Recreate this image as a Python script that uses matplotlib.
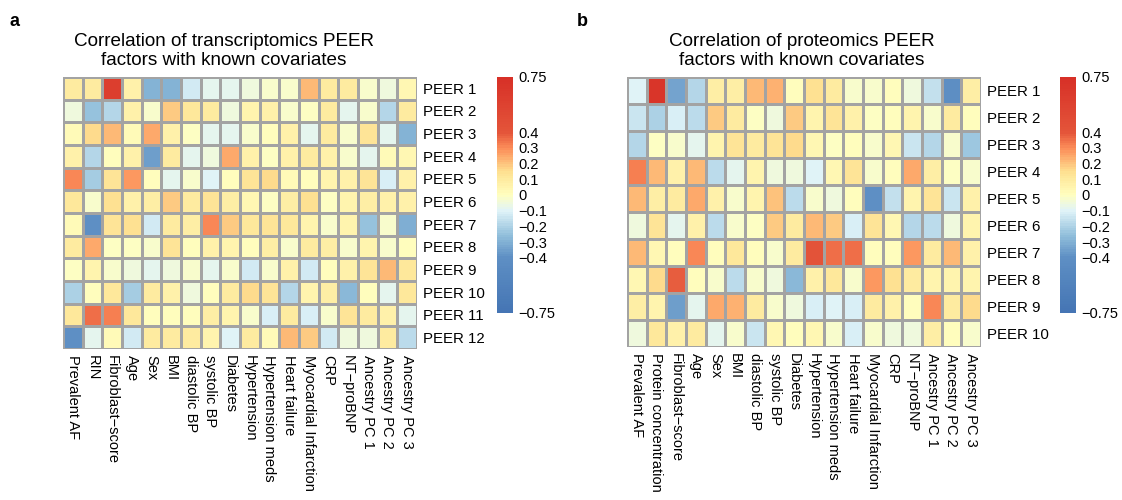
import numpy as np
import matplotlib
matplotlib.use("Agg")
import matplotlib.pyplot as plt
from matplotlib.colors import LinearSegmentedColormap, Normalize
from matplotlib.cm import ScalarMappable

plt.rcParams['font.family'] = ['Liberation Sans', 'DejaVu Sans']

# covariates (columns)
tx_covariates = ['Prevalent AF', 'RIN', 'Fibroblast\u2212score', 'Age', 'Sex', 'BMI',
                 'diastolic BP', 'systolic BP', 'Diabetes', 'Hypertension',
                 'Hypertension meds', 'Heart failure', 'Myocardial Infarction', 'CRP',
                 'NT\u2212proBNP', 'Ancestry PC 1', 'Ancestry PC 2', 'Ancestry PC 3']
px_covariates = ['Prevalent AF', 'Protein concentration', 'Fibroblast\u2212score', 'Age',
                 'Sex', 'BMI', 'diastolic BP', 'systolic BP', 'Diabetes', 'Hypertension',
                 'Hypertension meds', 'Heart failure', 'Myocardial Infarction', 'CRP',
                 'NT\u2212proBNP', 'Ancestry PC 1', 'Ancestry PC 2', 'Ancestry PC 3']

tx_factors = ['PEER %d' % i for i in range(1, 13)]
px_factors = ['PEER %d' % i for i in range(1, 11)]

# correlation of transcriptomics PEER factors with covariates
tx_corr = [
    [0.10, 0.10, 0.60, 0.07, -0.30, -0.30, -0.13, -0.09, -0.09, -0.05, -0.03, -0.03, 0.22, 0.10, 0.10, -0.03, -0.05, 0.04],
    [-0.05, -0.25, -0.19, 0.07, -0.03, 0.18, 0.12, 0.10, -0.05, 0.05, 0.07, -0.03, -0.01, 0.10, -0.08, -0.03, -0.19, 0.10],
    [0.02, 0.15, 0.21, 0.02, 0.24, 0.07, -0.01, -0.09, -0.09, -0.03, 0.00, 0.07, -0.08, 0.10, -0.03, 0.13, -0.09, -0.30],
    [0.07, -0.19, 0.01, 0.07, -0.35, 0.10, -0.09, -0.05, 0.24, 0.07, -0.01, 0.07, 0.10, 0.07, -0.03, -0.08, 0.02, 0.04],
    [0.30, -0.22, 0.13, 0.27, 0.01, -0.09, -0.03, -0.10, 0.00, 0.13, 0.16, 0.02, 0.00, 0.05, 0.07, 0.13, -0.12, 0.07],
    [0.12, -0.03, 0.14, 0.07, 0.09, 0.18, 0.10, 0.13, 0.09, 0.03, -0.01, 0.09, 0.14, -0.01, 0.05, 0.09, 0.07, 0.07],
    [0.02, -0.40, 0.13, 0.14, -0.13, 0.10, 0.09, 0.31, 0.19, 0.12, 0.13, 0.12, 0.05, -0.03, 0.05, -0.25, -0.03, -0.31],
    [0.10, 0.25, -0.01, -0.01, -0.03, 0.13, 0.01, 0.07, 0.05, 0.01, 0.09, -0.03, 0.10, 0.09, -0.03, 0.05, -0.03, 0.01],
    [-0.01, 0.05, -0.03, -0.06, -0.08, -0.05, -0.03, -0.09, -0.03, -0.13, -0.03, 0.07, -0.13, 0.01, 0.07, 0.13, 0.22, 0.12],
    [-0.20, 0.00, 0.12, -0.22, 0.10, 0.07, -0.06, 0.01, 0.10, 0.16, 0.13, -0.19, 0.05, 0.09, -0.28, 0.01, -0.09, 0.12],
    [0.12, 0.36, 0.32, 0.12, 0.01, 0.01, 0.01, 0.09, 0.05, -0.03, -0.12, 0.10, -0.12, -0.03, 0.13, 0.10, 0.07, -0.09],
    [-0.40, -0.09, 0.02, -0.13, 0.10, 0.10, 0.10, 0.05, -0.10, 0.10, 0.02, 0.22, 0.18, -0.13, -0.05, -0.05, 0.10, -0.18],
]

# correlation of proteomics PEER factors with covariates
px_corr = [
    [-0.10, 0.70, -0.33, -0.19, 0.09, 0.09, 0.22, 0.23, 0.01, 0.14, 0.10, -0.03, -0.03, 0.01, -0.05, -0.16, -0.42, 0.09],
    [-0.14, -0.21, -0.11, -0.18, 0.18, 0.10, -0.01, -0.05, 0.19, 0.05, 0.13, 0.07, -0.01, 0.00, 0.05, -0.03, 0.10, 0.01],
    [-0.19, -0.01, -0.03, -0.09, 0.05, 0.13, 0.10, 0.13, 0.15, 0.04, -0.01, 0.00, -0.03, 0.03, -0.14, -0.19, -0.03, -0.23],
    [0.32, 0.22, 0.07, 0.21, -0.18, -0.08, 0.05, -0.05, -0.05, -0.10, 0.03, 0.13, -0.03, 0.01, 0.24, 0.09, -0.01, -0.03],
    [0.21, 0.09, 0.10, 0.25, 0.07, -0.03, 0.05, 0.20, -0.18, -0.03, -0.05, 0.01, -0.40, -0.16, 0.05, 0.13, -0.15, 0.07],
    [-0.05, 0.13, -0.09, 0.07, -0.18, -0.03, -0.01, 0.18, 0.10, 0.22, 0.19, -0.11, 0.13, 0.04, -0.19, -0.17, -0.05, 0.05],
    [0.21, 0.04, 0.01, 0.30, 0.01, 0.12, 0.00, -0.03, 0.10, 0.42, 0.35, 0.35, 0.00, 0.01, 0.28, 0.10, 0.21, 0.07],
    [0.04, 0.16, 0.38, 0.01, -0.03, -0.18, -0.03, -0.05, -0.28, 0.07, 0.12, -0.03, 0.27, 0.14, 0.10, 0.05, 0.05, 0.05],
    [0.09, 0.05, -0.36, -0.09, 0.25, 0.23, 0.10, -0.03, -0.05, -0.12, -0.10, -0.12, 0.10, 0.07, 0.01, 0.30, 0.10, 0.15],
    [-0.05, 0.12, 0.07, 0.10, -0.08, -0.03, -0.15, 0.04, 0.00, 0.03, -0.03, -0.12, -0.03, -0.05, -0.05, 0.09, 0.01, -0.03],
]

cbar_ticks = [0.75, 0.4, 0.3, 0.2, 0.1, 0, -0.1, -0.2, -0.3, -0.4, -0.75]

# diverging palette, saturated beyond +-0.4
vmin, vmax = -0.75, 0.75
stops = [(-0.75, '#4575b4'), (-0.4, '#5e8fc4'), (-0.26, '#91bfdb'), (-0.1, '#e0f3f8'),
         (0.0, '#ffffbf'), (0.15, '#fee090'), (0.3, '#fc8d59'), (0.4, '#e4553a'),
         (0.75, '#d73027')]
cmap = LinearSegmentedColormap.from_list(
    'peer', [((v - vmin) / (vmax - vmin), c) for v, c in stops], N=100)
norm = Normalize(vmin=vmin, vmax=vmax)


def draw_heatmap(fig, rect, data, rows, cols):
    ax = fig.add_axes(rect)
    data = np.array(data)
    ax.pcolormesh(data, cmap=cmap, norm=norm, edgecolors='#a3a3a3', linewidth=0.75)
    ax.set_xlim(0, data.shape[1])
    ax.set_ylim(data.shape[0], 0)
    ax.set_xticks(np.arange(data.shape[1]) + 0.5)
    ax.set_xticklabels(cols, rotation=270, ha='center', va='top', fontsize=10.5)
    ax.set_yticks(np.arange(data.shape[0]) + 0.5)
    ax.set_yticklabels(rows, fontsize=10.8)
    ax.yaxis.tick_right()
    ax.tick_params(length=0, pad=4)
    for s in ax.spines.values():
        s.set_visible(False)
    return ax


def draw_colorbar(fig, rect):
    cax = fig.add_axes(rect)
    cb = fig.colorbar(ScalarMappable(norm=norm, cmap=cmap), cax=cax)
    cb.outline.set_visible(False)
    cb.set_ticks(cbar_ticks)
    cb.set_ticklabels([('%g' % t).replace('-', '\u2212') for t in cbar_ticks])
    cax.tick_params(length=0, pad=4, labelsize=10.5)
    return cb


fig = plt.figure(figsize=(11.22, 5), dpi=100)

draw_heatmap(fig, [63 / 1122, 1 - 349 / 500, 354 / 1122, 272 / 500],
             tx_corr, tx_factors, tx_covariates)
draw_colorbar(fig, [497 / 1122, 1 - 313 / 500, 16 / 1122, 236 / 500])
fig.text(224 / 1122, 1 - 51 / 500,
         'Correlation of transcriptomics PEER\nfactors with known covariates',
         ha='center', va='center', fontsize=13.6, linespacing=1.1)

draw_heatmap(fig, [627 / 1122, 1 - 347 / 500, 354 / 1122, 270 / 500],
             px_corr, px_factors, px_covariates)
draw_colorbar(fig, [1060 / 1122, 1 - 313 / 500, 16 / 1122, 236 / 500])
fig.text(802 / 1122, 1 - 51 / 500,
         'Correlation of proteomics PEER\nfactors with known covariates',
         ha='center', va='center', fontsize=13.6, linespacing=1.1)

fig.text(10 / 1122, 1 - 22 / 500, 'a', fontsize=13, fontweight='bold', va='center')
fig.text(577 / 1122, 1 - 22 / 500, 'b', fontsize=13, fontweight='bold', va='center')

fig.savefig('out.png', dpi=100)
